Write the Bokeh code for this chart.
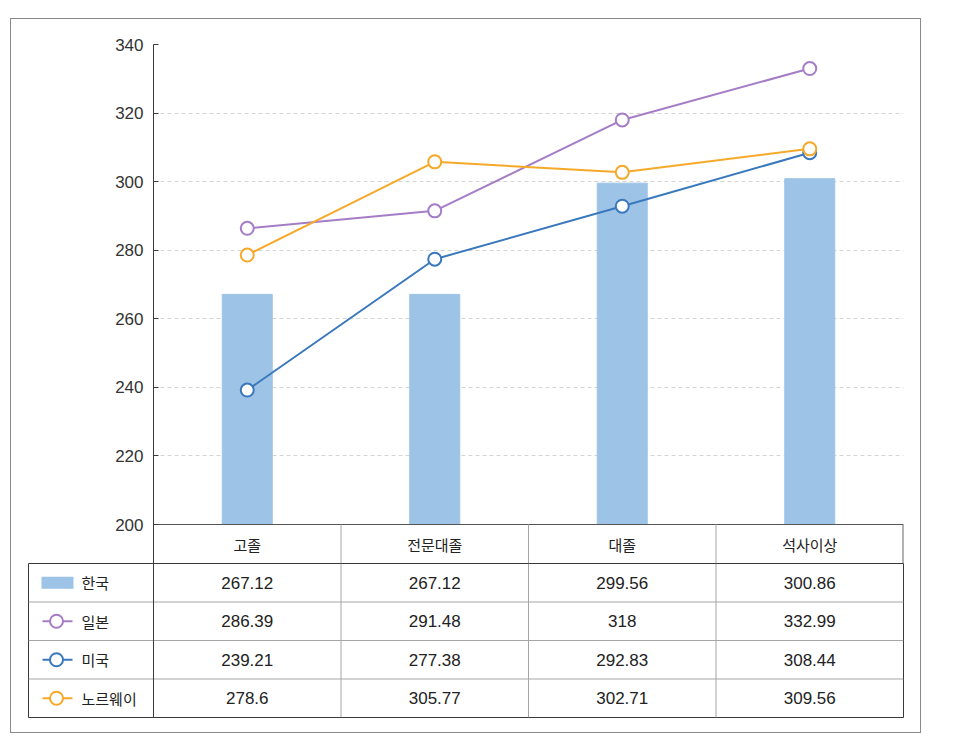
from bokeh.plotting import figure
from bokeh.layouts import column
from bokeh.models import Range1d, FixedTicker
from bokeh.core.properties import value
from bokeh.embed import file_html
from bokeh.resources import INLINE

# ---- data ----
categories = ["고졸", "전문대졸", "대졸", "석사이상"]
series_names = ["한국", "일본", "미국", "노르웨이"]
korea = [267.12, 267.12, 299.56, 300.86]
japan = [286.39, 291.48, 318, 332.99]
usa = [239.21, 277.38, 292.83, 308.44]
norway = [278.6, 305.77, 302.71, 309.56]
y_ticks = [200, 220, 240, 260, 280, 300, 320, 340]

colors = {"한국": "#9DC3E6", "일본": "#A57DC6", "미국": "#3A78BE", "노르웨이": "#F6A928"}
series_values = {"한국": korea, "일본": japan, "미국": usa, "노르웨이": norway}
line_series = ["일본", "미국", "노르웨이"]

KR = value("Noto Sans CJK KR")
NUM = value("Liberation Sans")
DARK = "#3a3a3a"
GRAY = "#a6a6a6"

n = len(categories)
xs = [i + 0.5 for i in range(n)]

# geometry helpers (pixels)
col_px = 187.5          # one category column
frame_h_px = 480        # 200..340
header_px = 39          # table header row height
ymin, ymax = y_ticks[0], y_ticks[-1]
y_header = ymin - header_px * (ymax - ymin) / frame_h_px

# ---- chart (with header row of table) ----
pA = figure(width=909, height=25 + frame_h_px + header_px,
            x_range=Range1d(0, n), y_range=Range1d(y_header, ymax),
            x_axis_location=None, output_backend="svg", toolbar_location=None,
            min_border_left=142, min_border_right=17, min_border_top=25, min_border_bottom=0,
            outline_line_color=None, background_fill_color="white", border_fill_color="white")
pA.frame_align = False

pA.xgrid.visible = False
pA.yaxis.ticker = FixedTicker(ticks=y_ticks)
pA.yaxis.minor_tick_line_color = None
pA.yaxis.major_tick_in = 5
pA.yaxis.major_tick_out = 0
pA.yaxis.major_tick_line_color = DARK
pA.yaxis.axis_line_color = DARK
pA.yaxis.major_label_text_font = "Liberation Sans"
pA.yaxis.major_label_text_font_size = "17px"
pA.yaxis.major_label_text_color = "#333333"
pA.yaxis.major_label_standoff = 10
pA.ygrid.grid_line_color = "#d4d4d4"
pA.ygrid.grid_line_dash = "4 3"

pA.vbar(x=xs, top=korea, bottom=ymin, width=50 / col_px, color=colors["한국"])

for name in line_series:
    vals = series_values[name]
    pA.line(xs, vals, line_color=colors[name], line_width=2)
    pA.scatter(xs, vals, size=13, marker="circle", fill_color="white",
               line_color=colors[name], line_width=2)

# header row of the table
pA.segment(x0=[0], y0=[ymin], x1=[n], y1=[ymin], line_color="#555555", line_width=1)
pA.segment(x0=[1, 2, 3], y0=[y_header] * 3, x1=[1, 2, 3], y1=[ymin] * 3,
           line_color=GRAY, line_width=1)
pA.segment(x0=[n], y0=[y_header], x1=[n], y1=[ymin], line_color="#666666", line_width=2)
pA.text(x=xs, y=[(y_header + ymin) / 2] * n, text=categories, text_font=KR,
        text_font_size="15px", text_color="#222222", text_align="center",
        text_baseline="middle")

# ---- table body with legend column ----
legend_px = 125
rows_px = 154
x_left = -legend_px / col_px
pB = figure(width=909, height=rows_px + 15,
            x_range=Range1d(x_left, n), y_range=Range1d(0, len(series_names)),
            x_axis_location=None, y_axis_location=None,
            output_backend="svg", toolbar_location=None,
            min_border_left=17, min_border_right=17, min_border_top=0, min_border_bottom=15,
            outline_line_color=DARK, outline_line_width=1,
            background_fill_color="white", border_fill_color="white")
pB.frame_align = False
pB.xgrid.visible = False
pB.ygrid.visible = False

nr = len(series_names)
# row separators
pB.segment(x0=[x_left] * (nr - 1), y0=list(range(1, nr)), x1=[n] * (nr - 1),
           y1=list(range(1, nr)), line_color=GRAY, line_width=1)
# column separators
pB.segment(x0=[1, 2, 3], y0=[0] * 3, x1=[1, 2, 3], y1=[nr] * 3, line_color=GRAY, line_width=1)
pB.segment(x0=[0], y0=[0], x1=[0], y1=[nr], line_color=DARK, line_width=1)

def px(v):
    return x_left + v / col_px

row_y = [nr - 0.5 - i for i in range(nr)]
for i, name in enumerate(series_names):
    yv = row_y[i]
    if name == "한국":
        pB.rect(x=[px(29)], y=[yv], width=32, height=12, width_units="screen",
                height_units="screen", fill_color=colors[name], line_color=None)
    else:
        pB.segment(x0=[px(14)], y0=[yv], x1=[px(44)], y1=[yv],
                   line_color=colors[name], line_width=2)
        pB.scatter([px(28)], [yv], size=13, marker="circle", fill_color="white",
                   line_color=colors[name], line_width=2)
    pB.text(x=[px(53)], y=[yv], text=[name], text_font=KR, text_font_size="15px",
            text_color="#222222", text_align="left", text_baseline="middle")
    vals = series_values[name]
    pB.text(x=xs, y=[yv] * n, text=[f"{v:g}" for v in vals], text_font=NUM,
            text_font_size="17px", text_color="#222222", text_align="center",
            text_baseline="middle")

layout = column(pA, pB, spacing=0, margin=(18, 0, 0, 10),
                styles={"border": "1px solid #8a8a8a", "background-color": "white"})

open("out.html", "w").write(file_html(layout, INLINE))
